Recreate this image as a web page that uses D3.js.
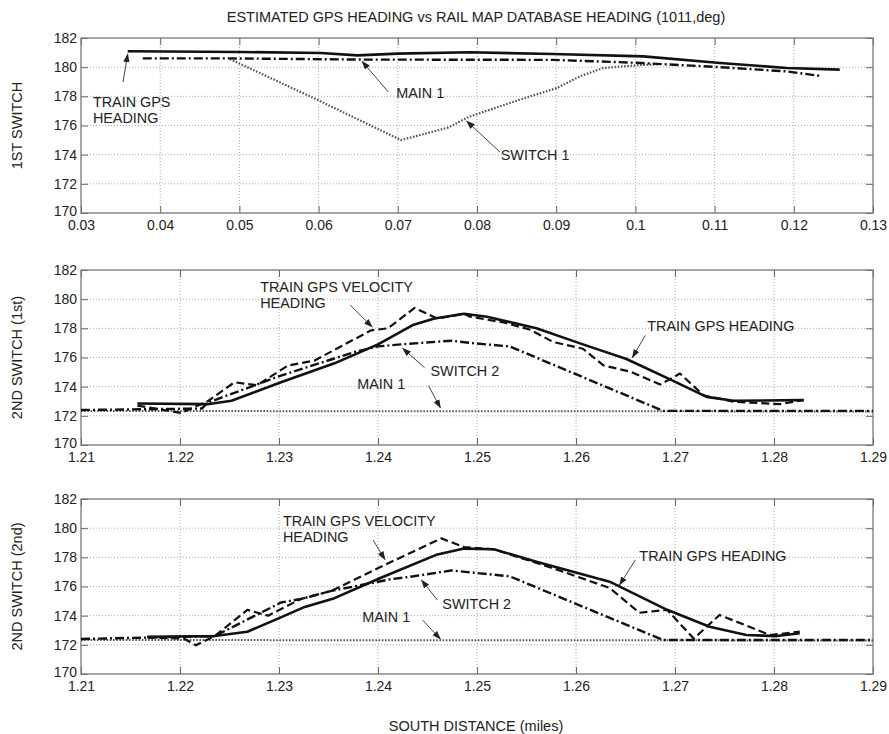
<!DOCTYPE html>
<html>
<head>
<meta charset="utf-8">
<script src="https://cdn.jsdelivr.net/npm/d3@7"></script>
<style>
  body { margin: 0; background: #fff; }
  text { font-family: Arial, "Liberation Sans", sans-serif; fill: #222; }
</style>
</head>
<body>
<script>
// ---- data ----
const yTicks = [170, 172, 174, 176, 178, 180, 182];
const xTicksTop = [0.03, 0.04, 0.05, 0.06, 0.07, 0.08, 0.09, 0.1, 0.11, 0.12, 0.13];
const xTicksSw2 = [1.21, 1.22, 1.23, 1.24, 1.25, 1.26, 1.27, 1.28, 1.29];

// panel 1: 1st switch
const p1Gps = [[0.0359,181.09],[0.0502,181.04],[0.0603,180.97],[0.0649,180.81],[0.070,180.93],
  [0.0791,181.02],[0.0896,180.9],[0.101,180.74],[0.1107,180.29],[0.1191,179.94],[0.1258,179.83]];
const p1Main = [[0.0378,180.6],[0.0488,180.6],[0.0658,180.52],[0.0791,180.51],[0.0896,180.5],
  [0.1002,180.3],[0.1107,180.0],[0.1191,179.71],[0.1233,179.4]];
const p1Switch = [[0.0488,180.55],[0.0595,177.85],[0.0704,175.0],[0.0763,175.85],[0.0790,176.6],
  [0.0854,177.77],[0.0901,178.57],[0.0930,179.37],[0.0959,179.94],[0.1002,180.13],[0.1030,180.2]];

// panel 2: 2nd switch (1st pass)
const p2Main = [[1.21,172.33],[1.29,172.3]];
const p2Switch = [[1.21,172.4],[1.2222,172.5],[1.2228,172.9],[1.2302,174.76],[1.2376,176.37],[1.240,176.76],
  [1.2423,176.9],[1.2474,177.15],[1.2493,177.0],[1.2533,176.76],[1.2688,172.34],[1.29,172.34]];
const p2Gps = [[1.2157,172.85],[1.2228,172.8],[1.2252,173.03],[1.2302,174.3],[1.2356,175.6],[1.240,176.9],
  [1.2436,178.25],[1.2457,178.67],[1.2487,179.0],[1.251,178.8],[1.256,178.0],[1.2607,176.9],
  [1.2651,175.9],[1.2695,174.5],[1.2732,173.3],[1.2759,173.03],[1.283,173.08]];
const p2Vel = [[1.2157,172.7],[1.2201,172.2],[1.2228,173.0],[1.2255,174.3],[1.2278,174.1],[1.2309,175.45],
  [1.2336,175.8],[1.2393,177.86],[1.241,178.0],[1.2437,179.4],[1.246,178.67],[1.2487,179.0],
  [1.2493,178.8],[1.2527,178.4],[1.2554,177.9],[1.2577,177.06],[1.2607,176.6],[1.2628,175.45],
  [1.2655,175.03],[1.2685,174.15],[1.2705,174.9],[1.2729,173.4],[1.2759,172.97],[1.2806,172.8],[1.283,173.08]];

// panel 3: 2nd switch (2nd pass)
const p3Main = [[1.21,172.33],[1.29,172.3]];
const p3Switch = [[1.21,172.4],[1.2235,172.6],[1.2302,174.9],[1.2322,175.14],[1.2353,175.7],[1.2413,176.5],
  [1.2436,176.7],[1.2474,177.1],[1.2493,176.97],[1.2533,176.7],[1.2688,172.33],[1.29,172.33]];
const p3Gps = [[1.2167,172.55],[1.2235,172.6],[1.2268,172.9],[1.2299,173.8],[1.2326,174.6],[1.2356,175.2],
  [1.2403,176.6],[1.246,178.2],[1.2487,178.6],[1.2517,178.55],[1.256,177.7],[1.2634,176.33],
  [1.2692,174.4],[1.2735,173.24],[1.2772,172.67],[1.2803,172.6],[1.2826,172.8]];
const p3Vel = [[1.2167,172.5],[1.2204,172.43],[1.2216,171.97],[1.2235,172.6],[1.2268,174.4],[1.2289,174.0],
  [1.2322,175.14],[1.2353,175.7],[1.2403,177.36],[1.2464,179.3],[1.2487,178.7],[1.2517,178.55],
  [1.2577,177.25],[1.2634,175.9],[1.2664,174.2],[1.2692,174.4],[1.2719,172.43],[1.2745,174.05],
  [1.2796,172.67],[1.2826,172.9]];

// ---- layout ----
const W = 889, H = 734;
const left = 81, plotW = 792, plotH = 175;

const lineStyles = {
  gps:    { width: 2.6, dash: null, color: "#111" },
  vel:    { width: 2.2, dash: "8,4", color: "#111" },
  main:   { width: 2.4, dash: "9,3,2,3", color: "#111" },
  sw1:    { width: 2.2, dash: "1.6,1.6", color: "#555" },
  dotted: { width: 2.0, dash: "1.6,1.6", color: "#555" }
};

const panels = [
  { top: 38, xDomain: [0.03, 0.13], xTicks: xTicksTop, ylabel: "1ST SWITCH",
    series: [[p1Switch, "sw1"], [p1Main, "main"], [p1Gps, "gps"]],
    notes: [
      { lines: ["TRAIN GPS", "HEADING"], at: [0.0315, 177.27], from: [0.0353, 178.98], to: [0.0359, 180.9] },
      { lines: ["MAIN 1"], at: [0.0698, 177.89], from: [0.0688, 178.3], to: [0.0655, 180.4] },
      { lines: ["SWITCH 1"], at: [0.083, 173.63], from: [0.0829, 174.18], to: [0.0787, 176.3] }
    ] },
  { top: 270, xDomain: [1.21, 1.29], xTicks: xTicksSw2, ylabel: "2ND SWITCH (1st)",
    series: [[p2Main, "dotted"], [p2Switch, "main"], [p2Vel, "vel"], [p2Gps, "gps"]],
    notes: [
      { lines: ["TRAIN GPS VELOCITY", "HEADING"], at: [1.2281, 180.48], from: [1.2372, 179.59], to: [1.2394, 178.1] },
      { lines: ["SWITCH 2"], at: [1.2453, 174.76], from: [1.2447, 175.31], to: [1.2425, 176.62] },
      { lines: ["MAIN 1"], at: [1.2379, 173.86], from: [1.2451, 174.07], to: [1.2463, 172.55] },
      { lines: ["TRAIN GPS HEADING"], at: [1.2672, 177.79], from: [1.267, 177.52], to: [1.2657, 176.0] }
    ] },
  { top: 499, xDomain: [1.21, 1.29], xTicks: xTicksSw2, ylabel: "2ND SWITCH (2nd)",
    series: [[p3Main, "dotted"], [p3Switch, "main"], [p3Vel, "vel"], [p3Gps, "gps"]],
    notes: [
      { lines: ["TRAIN GPS VELOCITY", "HEADING"], at: [1.2304, 180.15], from: [1.2395, 179.19], to: [1.2407, 177.85] },
      { lines: ["SWITCH 2"], at: [1.2465, 174.46], from: [1.246, 175.07], to: [1.2444, 176.44] },
      { lines: ["MAIN 1"], at: [1.2384, 173.56], from: [1.2445, 173.7], to: [1.2463, 172.4] },
      { lines: ["TRAIN GPS HEADING"], at: [1.2664, 177.75], from: [1.266, 177.82], to: [1.2644, 176.1] }
    ] }
];

const svg = d3.select("body").append("svg")
  .attr("width", W)
  .attr("height", H);

// arrow head
svg.append("defs").append("marker")
  .attr("id", "arrow")
  .attr("viewBox", "0 0 10 10")
  .attr("refX", 9).attr("refY", 5)
  .attr("markerWidth", 9).attr("markerHeight", 9)
  .attr("markerUnits", "userSpaceOnUse")
  .attr("orient", "auto")
  .append("path")
  .attr("d", "M0,1.5 L10,5 L0,8.5 Z")
  .attr("fill", "#222");

// title
svg.append("text")
  .attr("x", 476).attr("y", 22)
  .attr("text-anchor", "middle")
  .style("font-size", "14.5px")
  .text("ESTIMATED GPS HEADING vs RAIL MAP DATABASE HEADING (1011,deg)");

panels.forEach((p, i) => {
  const x = d3.scaleLinear().domain(p.xDomain).range([left, left + plotW]);
  const y = d3.scaleLinear().domain([170, 182]).range([p.top + plotH, p.top]);
  const g = svg.append("g");

  // grid
  g.selectAll(".gx").data(p.xTicks.slice(1, -1)).join("line")
    .attr("x1", d => x(d)).attr("x2", d => x(d))
    .attr("y1", p.top).attr("y2", p.top + plotH)
    .attr("stroke", "#aaa").attr("stroke-width", 1).attr("stroke-dasharray", "1,2");
  g.selectAll(".gy").data(yTicks.slice(1, -1)).join("line")
    .attr("x1", left).attr("x2", left + plotW)
    .attr("y1", d => y(d)).attr("y2", d => y(d))
    .attr("stroke", "#aaa").attr("stroke-width", 1).attr("stroke-dasharray", "1,2");

  // axes (inward ticks, MATLAB style)
  const fmt = d3.format("~g");
  g.append("g").attr("transform", `translate(0,${p.top + plotH})`)
    .call(d3.axisBottom(x).tickValues(p.xTicks).tickFormat(fmt).tickSizeInner(-7).tickSizeOuter(0).tickPadding(7))
    .call(a => a.select(".domain").remove());
  g.append("g").attr("transform", `translate(0,${p.top})`)
    .call(d3.axisTop(x).tickValues(p.xTicks).tickFormat("").tickSizeInner(-7).tickSizeOuter(0))
    .call(a => a.select(".domain").remove());
  g.append("g").attr("transform", `translate(${left},0)`)
    .call(d3.axisLeft(y).tickValues(yTicks).tickFormat(d3.format("d")).tickSizeInner(-7).tickSizeOuter(0).tickPadding(4))
    .call(a => a.select(".domain").remove());
  g.append("g").attr("transform", `translate(${left + plotW},0)`)
    .call(d3.axisRight(y).tickValues(yTicks).tickFormat("").tickSizeInner(-7).tickSizeOuter(0))
    .call(a => a.select(".domain").remove());
  g.selectAll(".tick line").attr("stroke", "#666");
  g.selectAll(".tick text").style("font-size", "14px").style("font-family", "Arial, 'Liberation Sans', sans-serif").attr("fill", "#222");
  // lift the bottom y label a touch so it clears the first x label
  g.selectAll(".tick text").filter(d => d === 170).attr("dy", "0.2em");

  // frame
  g.append("rect")
    .attr("x", left).attr("y", p.top)
    .attr("width", plotW).attr("height", plotH)
    .attr("fill", "none").attr("stroke", "#777").attr("stroke-width", 1.3);

  // series
  const line = d3.line().x(d => x(d[0])).y(d => y(d[1]));
  p.series.forEach(([data, key]) => {
    const s = lineStyles[key];
    g.append("path")
      .attr("d", line(data))
      .attr("fill", "none")
      .attr("stroke", s.color)
      .attr("stroke-width", s.width)
      .attr("stroke-dasharray", s.dash)
      .attr("stroke-linejoin", "round");
  });

  // annotations
  p.notes.forEach(n => {
    g.append("line")
      .attr("x1", x(n.from[0])).attr("y1", y(n.from[1]))
      .attr("x2", x(n.to[0])).attr("y2", y(n.to[1]))
      .attr("stroke", "#444").attr("stroke-width", 1)
      .attr("marker-end", "url(#arrow)");
    n.lines.forEach((t, k) => {
      g.append("text")
        .attr("x", x(n.at[0])).attr("y", y(n.at[1]) + k * 16)
        .style("font-size", "14.4px")
        .text(t);
    });
  });

  // y label
  svg.append("text")
    .attr("transform", `translate(22,${p.top + plotH / 2}) rotate(-90)`)
    .attr("text-anchor", "middle")
    .style("font-size", "14.5px")
    .text(p.ylabel);
});

// x label
svg.append("text")
  .attr("x", 476).attr("y", 731)
  .attr("text-anchor", "middle")
  .style("font-size", "14.5px")
  .text("SOUTH DISTANCE (miles)");
</script>
</body>
</html>
